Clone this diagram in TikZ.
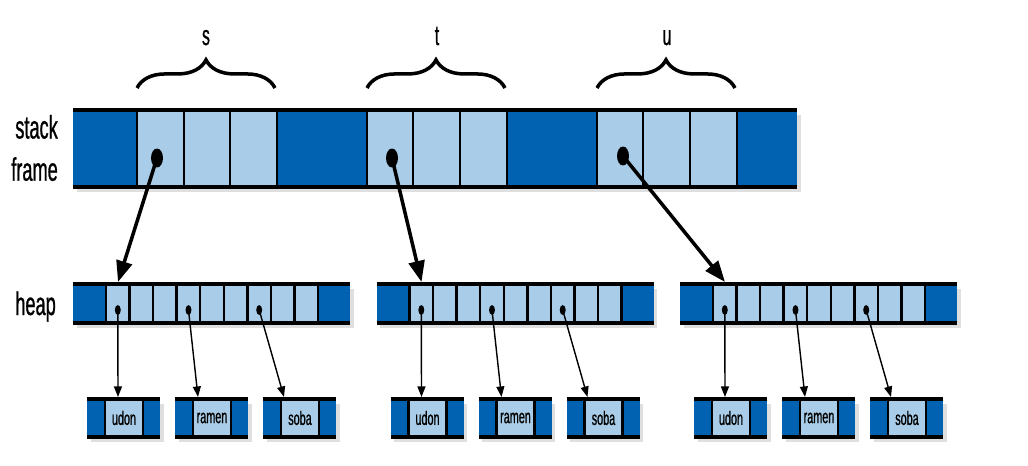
\documentclass[tikz,border=0pt]{standalone}
\usepackage{fontspec}
\newfontfamily\condfont[FakeStretch=0.56,FakeBold=0.8]{Liberation Sans}
\usepackage{xcolor}
\usepackage{tikz}
\usetikzlibrary{arrows.meta,positioning,calc,decorations.pathreplacing,shadows}

\definecolor{celldark}{RGB}{0,98,176}
\definecolor{celllight}{RGB}{169,205,232}

\begin{document}
\begin{tikzpicture}[x=0.02cm,y=-0.02cm,
	darkcell/.style={fill=celldark,drop shadow={opacity=0.25,shadow xshift=2pt,shadow yshift=-3pt}},
	lightcell/.style={fill=celllight},
	rail/.style={line width=2.2pt},
	divider/.style={line width=1.4pt},
	stackptr/.style={line width=2pt,-{Triangle[length=12pt,width=9pt]}},
	heapptr/.style={line width=0.8pt,-{Triangle[length=6pt,width=4.5pt]}},
	curly/.style={line width=2pt,decorate,decoration={brace,amplitude=16pt}},
	biglabel/.style={font=\condfont\fontsize{18.5}{24}\selectfont},
	varlabel/.style={font=\condfont\fontsize{16}{18}\selectfont},
	tag/.style={font=\condfont\fontsize{11}{12}\selectfont}]
	\useasboundingbox (0,0) rectangle (1028,466);
	
	% stack frame
	\fill[darkcell] (73,110) rectangle (797,187);
	\fill[lightcell] (137,110) rectangle (277,187);
	\fill[lightcell] (367,110) rectangle (507,187);
	\fill[lightcell] (597,110) rectangle (737,187);
	\foreach \x in {137,184,230,277,367,413,460,507,597,643,690,737}
		\draw[divider] (\x,110) -- (\x,187);
	\draw[rail] (73,110) -- (797,110);
	\draw[rail] (73,187) -- (797,187);
	
	\node[biglabel,align=right,anchor=east] (frame) at (64,148) {stack\\frame};
	\node[biglabel,anchor=base east] (heap) at (62,315) {heap};
	
	% variables
	\draw[curly] (137,88) -- (275,88);
	\draw[curly] (367,88) -- (505,88);
	\draw[curly] (597,88) -- (735,88);
	\node[varlabel,anchor=base] (lbl-s) at (206,45) {s};
	\node[varlabel,anchor=base] (lbl-t) at (437,45) {t};
	\node[varlabel,anchor=base] (lbl-u) at (667,45) {u};
	
	\coordinate (s) at (157,158);
	\coordinate (t) at (392,158);
	\coordinate (u) at (623,156);
	
	% heap buffers
	\foreach \hx/\n in {73/1,376.5/2,680/3}{
		\begin{scope}[shift={(\hx,0)}]
			\fill[darkcell] (0,284) rectangle (277,323);
			\fill[lightcell] (33,284) rectangle (245,323);
			\foreach \k in {0,...,9}
				\draw[divider] ({33+\k*23.56},284) -- ({33+\k*23.56},323);
			\draw[rail] (0,284) -- (277,284);
			\draw[rail] (0,323) -- (277,323);
			\coordinate (h\n-in) at (45,282);
			
			% strings
			\foreach \bx/\word/\dx/\tx in {14/udon/44.8/45,102/ramen/115.5/125,190/soba/186.2/211}{
				\fill[darkcell] (\bx,399) rectangle ++(73,38);
				\fill[lightcell] (\bx+18,399) rectangle ++(38,38);
				\draw[divider] (\bx+18,399) -- ++(0,38);
				\draw[divider] (\bx+56,399) -- ++(0,38);
				\draw[rail] (\bx,399) -- ++(73,0);
				\draw[rail] (\bx,437) -- ++(73,0);
				\node[tag] (h\n-\word) at (\bx+37,418) {\word};
				
				\coordinate (h\n-\word-ptr) at (\dx,310);
				\coordinate (h\n-\word-end) at (\tx,397);
				\draw[heapptr] (h\n-\word-ptr) -- (h\n-\word-end);
				\fill (h\n-\word-ptr) ellipse (1.7pt and 2.8pt);
			}
		\end{scope}
	}
	
	% pointers from the stack
	\draw[stackptr] (s) -- (h1-in);
	\draw[stackptr] (t) -- (h2-in);
	\draw[stackptr] (u) -- (h3-in);
	\fill (s) ellipse (3.4pt and 5.4pt);
	\fill (t) ellipse (3.4pt and 5.4pt);
	\fill (u) ellipse (3.4pt and 5.4pt);
\end{tikzpicture}
\end{document}
